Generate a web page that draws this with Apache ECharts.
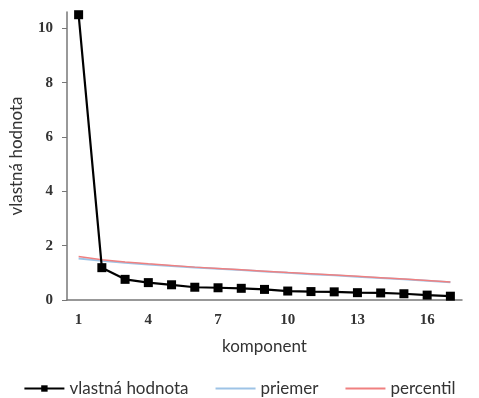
<!DOCTYPE html>
<html><head><meta charset="utf-8">
<script src="https://cdn.jsdelivr.net/npm/echarts@6/dist/echarts.min.js"></script>
<style>html,body{margin:0;padding:0;background:#fff}#c{width:479px;height:398px}</style>
</head><body><div id="c"></div>
<script>
const categories = ['1','2','3','4','5','6','7','8','9','10','11','12','13','14','15','16','17'];
const eigen = [10.5, 1.19, 0.76, 0.64, 0.56, 0.47, 0.45, 0.43, 0.39, 0.33, 0.31, 0.30, 0.27, 0.26, 0.23, 0.18, 0.14];
const priemer = [1.53, 1.44, 1.37, 1.31, 1.25, 1.20, 1.15, 1.10, 1.05, 1.00, 0.95, 0.91, 0.86, 0.81, 0.76, 0.71, 0.65];
const percentil = [1.60, 1.48, 1.40, 1.33, 1.27, 1.21, 1.16, 1.11, 1.06, 1.01, 0.97, 0.92, 0.87, 0.82, 0.77, 0.72, 0.66];
const yTicks = [0, 2, 4, 6, 8, 10];

const chart = echarts.init(document.getElementById('c'));
const tickFont = {fontFamily: 'Liberation Serif', fontWeight: 'bold', fontSize: 15, color: '#333'};
chart.setOption({
  animation: false,
  grid: {left: 67, right: 17, top: 12, bottom: 98, containLabel: false, outerBoundsMode: 'none'},
  legend: {
    bottom: -4, left: 'center', itemGap: 26, itemWidth: 40, itemHeight: 8,
    textStyle: {fontFamily: 'Lato', fontSize: 17, color: '#333'},
    data: [{name: 'vlastná hodnota'}, {name: 'priemer', itemStyle: {opacity: 0}}, {name: 'percentil', itemStyle: {opacity: 0}}]
  },
  xAxis: {
    type: 'category', data: categories, boundaryGap: true,
    name: 'komponent', nameLocation: 'middle', nameGap: 38,
    nameTextStyle: {fontFamily: 'Lato', fontSize: 17, color: '#333'},
    axisLine: {lineStyle: {color: '#777', width: 1.5}},
    axisTick: {interval: 0, length: 5, lineStyle: {color: '#777'}},
    axisLabel: Object.assign({interval: 2, margin: 13}, tickFont)
  },
  yAxis: {
    type: 'value', min: 0, max: 10.6,
    name: 'vlastná hodnota', nameLocation: 'middle', nameGap: 42,
    nameTextStyle: {fontFamily: 'Lato', fontSize: 17, color: '#333'},
    splitLine: {show: false},
    axisLine: {show: true, lineStyle: {color: '#777', width: 1.5}},
    axisTick: {show: true, length: 5, customValues: yTicks, lineStyle: {color: '#777'}},
    axisLabel: Object.assign({customValues: yTicks, margin: 14}, tickFont)
  },
  series: [
    {name: 'priemer', type: 'line', data: priemer, symbol: 'none', lineStyle: {color: '#9dc3e6', width: 2}, itemStyle: {color: '#9dc3e6'}, z: 1},
    {name: 'percentil', type: 'line', data: percentil, symbol: 'none', lineStyle: {color: '#f08080', width: 1.5}, itemStyle: {color: '#f08080'}, z: 2},
    {name: 'vlastná hodnota', type: 'line', data: eigen, symbol: 'rect', symbolSize: 9, lineStyle: {color: '#000', width: 2.2}, itemStyle: {color: '#000'}, z: 3}
  ]
});
</script></body></html>
